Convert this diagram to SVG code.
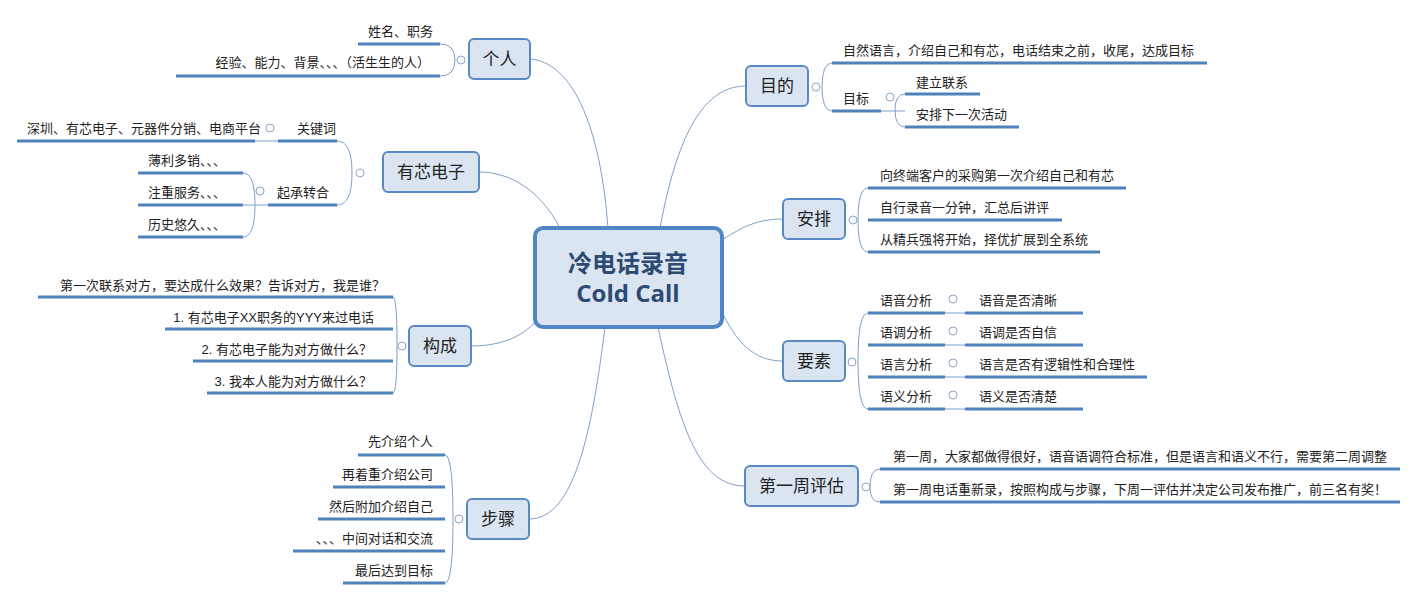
<svg xmlns="http://www.w3.org/2000/svg" width="1417" height="600" viewBox="0 0 1417 600">
<style>
text{font-family:"Liberation Sans","Noto Sans CJK SC",sans-serif;fill:#222}
.c{font-size:13px}
.n{font-size:17px;text-anchor:middle}
.r{text-anchor:end}
.box{fill:#dbe5f1;stroke:#5a8ac6;stroke-width:2}
.u{stroke:#4f81bd;stroke-width:3}
.l{fill:none;stroke:#7f9fc8;stroke-width:1}
.o{fill:#fff;stroke:#8aa4c8;stroke-width:1}
</style>
<rect width="1417" height="600" fill="#fff"/>
<g id="connectors">
<path class="l" d="M608,228 C600,120 570,62 530,59"/>
<path class="l" d="M560,228 C540,190 510,172 479,172"/>
<path class="l" d="M537,320 C520,340 495,346 471,346"/>
<path class="l" d="M605,327 C590,450 570,519 529,519"/>
<path class="l" d="M660,228 C680,120 710,86 746,86"/>
<path class="l" d="M722,240 C745,225 760,219 783,219"/>
<path class="l" d="M722,312 C740,350 760,361 783,361"/>
<path class="l" d="M658,327 C680,430 700,486 745,486"/>
<!-- brackets -->
<path class="l" d="M440,44 Q455,44 455,60 Q455,76 440,76"/>
<path class="l" d="M337,141 Q352,141 352,173 Q352,205 337,205"/>
<path class="l" d="M243,173 Q255,173 255,205 Q255,237 243,237"/>
<line class="l" x1="255" y1="141" x2="278" y2="141"/>
<line class="l" x1="243" y1="205" x2="268" y2="205"/>
<path class="l" d="M393,297 Q397,297 397,346 Q397,393 393,393"/>
<path class="l" d="M445,455 Q453,455 453,519 Q453,583 445,583"/>
<path class="l" d="M832,63 Q822,63 822,87 Q822,111 832,111"/>
<path class="l" d="M905,94 Q895,94 895,110 Q895,127 905,127"/>
<line class="l" x1="881" y1="111" x2="905" y2="111"/>
<path class="l" d="M868,188 Q858,188 858,220 Q858,252 868,252"/>
<path class="l" d="M868,313 Q858,313 858,361 Q858,409 868,409"/>
<line class="l" x1="945" y1="313" x2="965" y2="313"/>
<line class="l" x1="945" y1="345" x2="965" y2="345"/>
<line class="l" x1="945" y1="377" x2="965" y2="377"/>
<line class="l" x1="945" y1="409" x2="965" y2="409"/>
<path class="l" d="M880,469 Q870,469 870,487 Q870,502 880,502"/>
</g>
<g id="center">
<rect x="535" y="228" width="187" height="99" rx="8" fill="#dbe5f1" stroke="#4f86c6" stroke-width="4"/>
<text x="628" y="272" text-anchor="middle" style="font-size:24px;font-weight:bold;fill:#2c4a73">冷电话录音</text>
<text x="628" y="302" text-anchor="middle" style="font-size:24px;font-weight:bold;fill:#2c4a73;font-family:'Open Sans','Liberation Sans',sans-serif">Cold Call</text>
</g>
<g id="geren">
<rect class="box" x="469" y="39" width="61" height="40" rx="5"/><text class="n" x="499.5" y="65">个人</text>
<circle class="o" cx="461" cy="60" r="4"/>
<text class="c r" x="433" y="36">姓名、职务</text><line class="u" x1="358" y1="44" x2="440" y2="44"/>
<text class="c r" x="430" y="67">经验、能力、背景、、、（活生生的人）</text><line class="u" x1="176" y1="76" x2="440" y2="76"/>
</g>
<g id="youxin">
<rect class="box" x="383" y="152" width="96" height="40" rx="5"/><text class="n" x="431" y="178">有芯电子</text>
<circle class="o" cx="360" cy="173" r="4"/>
<text class="c" x="297" y="133">关键词</text><line class="u" x1="278" y1="141" x2="337" y2="141"/>
<circle class="o" cx="270" cy="128" r="4"/>
<text class="c" x="27" y="133">深圳、有芯电子、元器件分销、电商平台</text><line class="u" x1="17" y1="141" x2="255" y2="141"/>
<text class="c" x="277" y="197">起承转合</text><line class="u" x1="268" y1="205" x2="337" y2="205"/>
<circle class="o" cx="260" cy="191" r="4"/>
<text class="c" x="148" y="165">薄利多销、、、</text><line class="u" x1="138" y1="173" x2="243" y2="173"/>
<text class="c" x="148" y="197">注重服务、、、</text><line class="u" x1="138" y1="205" x2="243" y2="205"/>
<text class="c" x="148" y="229">历史悠久、、、</text><line class="u" x1="138" y1="237" x2="243" y2="237"/>
</g>
<g id="goucheng">
<rect class="box" x="409" y="326" width="62" height="40" rx="5"/><text class="n" x="440" y="352">构成</text>
<circle class="o" cx="402" cy="346" r="4"/>
<text class="c r" x="385" y="290">第一次联系对方，要达成什么效果？告诉对方，我是谁？</text><line class="u" x1="38" y1="297" x2="393" y2="297"/>
<text class="c r" x="374" y="322">1. 有芯电子XX职务的YYY来过电话</text><line class="u" x1="165" y1="329" x2="393" y2="329"/>
<text class="c r" x="372" y="354">2. 有芯电子能为对方做什么？</text><line class="u" x1="193" y1="361" x2="393" y2="361"/>
<text class="c r" x="372" y="386">3. 我本人能为对方做什么？</text><line class="u" x1="207" y1="393" x2="393" y2="393"/>
</g>
<g id="buzhou">
<rect class="box" x="467" y="499" width="62" height="40" rx="5"/><text class="n" x="498" y="525">步骤</text>
<circle class="o" cx="459" cy="519" r="4"/>
<text class="c r" x="433" y="446">先介绍个人</text><line class="u" x1="358" y1="455" x2="445" y2="455"/>
<text class="c r" x="433" y="479">再着重介绍公司</text><line class="u" x1="333" y1="487" x2="445" y2="487"/>
<text class="c r" x="433" y="511">然后附加介绍自己</text><line class="u" x1="318" y1="519" x2="445" y2="519"/>
<text class="c r" x="433" y="543">、、、中间对话和交流</text><line class="u" x1="293" y1="551" x2="445" y2="551"/>
<text class="c r" x="433" y="575">最后达到目标</text><line class="u" x1="343" y1="583" x2="445" y2="583"/>
</g>
<g id="mudi">
<rect class="box" x="746" y="66" width="62" height="40" rx="5"/><text class="n" x="777" y="92">目的</text>
<circle class="o" cx="816" cy="87" r="4"/>
<text class="c" x="843" y="55">自然语言，介绍自己和有芯，电话结束之前，收尾，达成目标</text><line class="u" x1="832" y1="63" x2="1207" y2="63"/>
<text class="c" x="843" y="103">目标</text><line class="u" x1="832" y1="111" x2="881" y2="111"/>
<circle class="o" cx="890" cy="97" r="4"/>
<text class="c" x="916" y="87">建立联系</text><line class="u" x1="905" y1="94" x2="980" y2="94"/>
<text class="c" x="916" y="119">安排下一次活动</text><line class="u" x1="905" y1="127" x2="1019" y2="127"/>
</g>
<g id="anpai">
<rect class="box" x="783" y="199" width="62" height="40" rx="5"/><text class="n" x="814" y="225">安排</text>
<circle class="o" cx="853" cy="220" r="4"/>
<text class="c" x="880" y="180">向终端客户的采购第一次介绍自己和有芯</text><line class="u" x1="868" y1="188" x2="1126" y2="188"/>
<text class="c" x="880" y="212">自行录音一分钟，汇总后讲评</text><line class="u" x1="868" y1="220" x2="1062" y2="220"/>
<text class="c" x="880" y="244">从精兵强将开始，择优扩展到全系统</text><line class="u" x1="868" y1="252" x2="1100" y2="252"/>
</g>
<g id="yaosu">
<rect class="box" x="783" y="341" width="62" height="40" rx="5"/><text class="n" x="814" y="367">要素</text>
<circle class="o" cx="852" cy="362" r="4"/>
<text class="c" x="880" y="305">语音分析</text><line class="u" x1="868" y1="313" x2="945" y2="313"/>
<circle class="o" cx="953" cy="299" r="4"/>
<text class="c" x="979" y="305">语音是否清晰</text><line class="u" x1="965" y1="313" x2="1083" y2="313"/>
<text class="c" x="880" y="337">语调分析</text><line class="u" x1="868" y1="345" x2="945" y2="345"/>
<circle class="o" cx="953" cy="331" r="4"/>
<text class="c" x="979" y="337">语调是否自信</text><line class="u" x1="965" y1="345" x2="1083" y2="345"/>
<text class="c" x="880" y="369">语言分析</text><line class="u" x1="868" y1="377" x2="945" y2="377"/>
<circle class="o" cx="953" cy="363" r="4"/>
<text class="c" x="979" y="369">语言是否有逻辑性和合理性</text><line class="u" x1="965" y1="377" x2="1147" y2="377"/>
<text class="c" x="880" y="401">语义分析</text><line class="u" x1="868" y1="409" x2="945" y2="409"/>
<circle class="o" cx="953" cy="395" r="4"/>
<text class="c" x="979" y="401">语义是否清楚</text><line class="u" x1="965" y1="409" x2="1083" y2="409"/>
</g>
<g id="pinggu">
<rect class="box" x="745" y="466" width="113" height="40" rx="5"/><text class="n" x="801.5" y="492">第一周评估</text>
<circle class="o" cx="866" cy="487" r="4"/>
<text class="c" x="893" y="461">第一周，大家都做得很好，语音语调符合标准，但是语言和语义不行，需要第二周调整</text><line class="u" x1="880" y1="469" x2="1400" y2="469"/>
<text class="c" x="893" y="494">第一周电话重新录，按照构成与步骤，下周一评估并决定公司发布推广，前三名有奖！</text><line class="u" x1="880" y1="502" x2="1400" y2="502"/>
</g>
</svg>
